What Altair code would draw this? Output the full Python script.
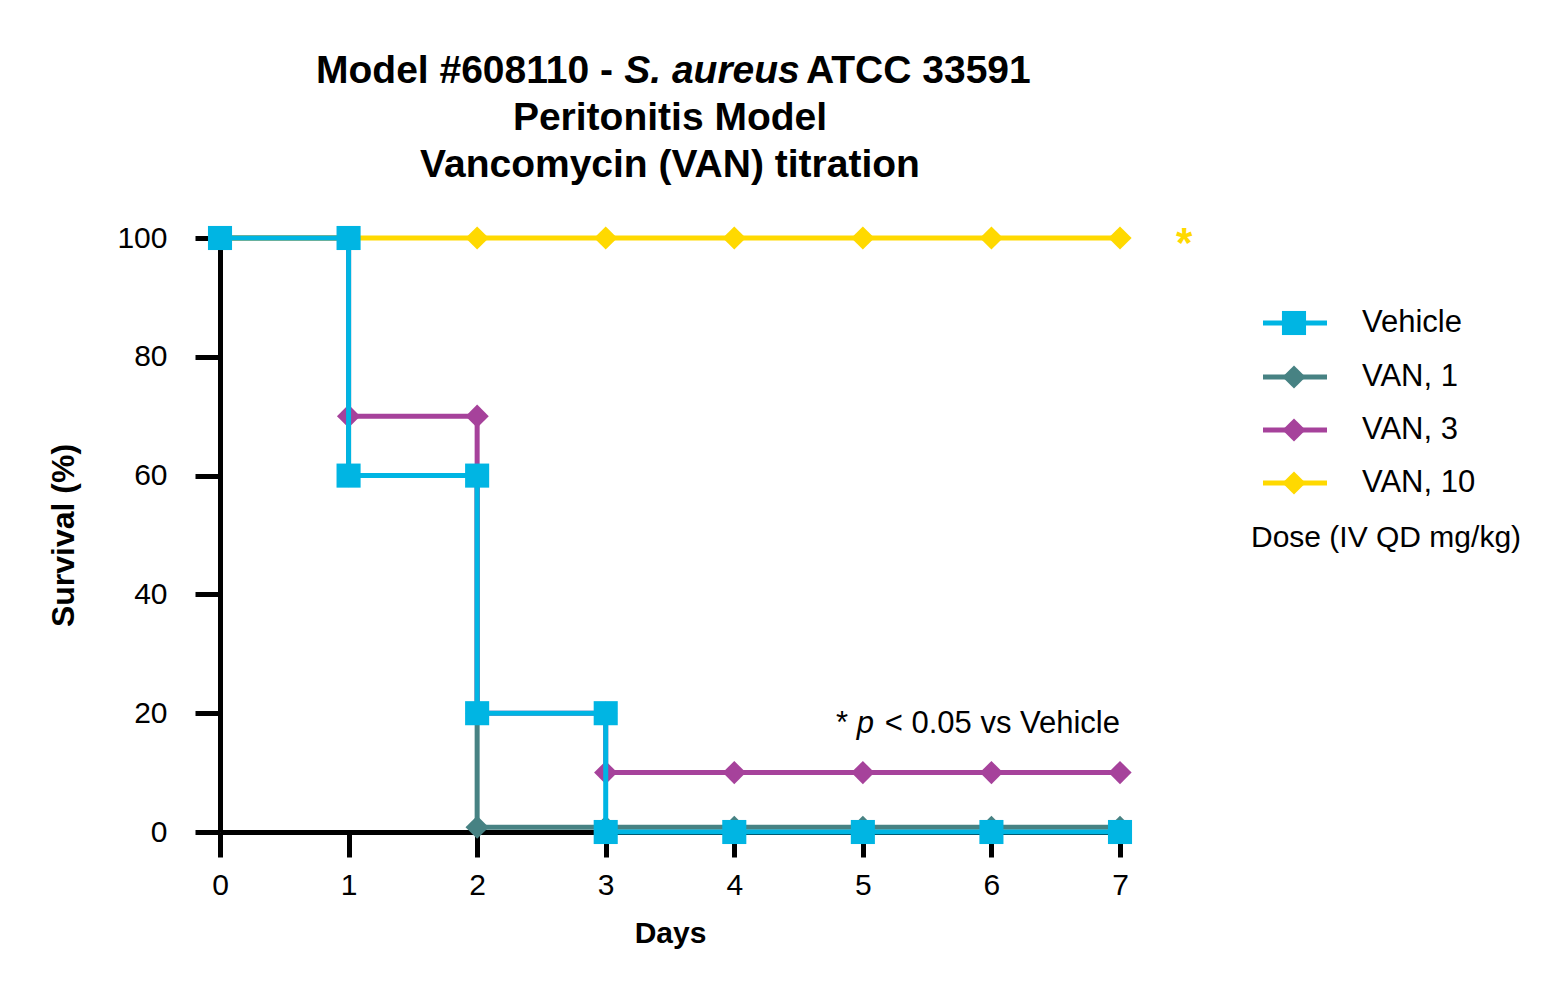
import altair as alt
import pandas as pd

# ---------------- data ----------------
days = [0, 1, 2, 3, 4, 5, 6, 7]
series_names = ["Vehicle", "VAN, 1", "VAN, 3", "VAN, 10"]
vehicle = [100, 60, 20, 0, 0, 0, 0, 0]
van1 = [100, 60, 0.8, 0.8, 0.8, 0.8, 0.8, 0.8]
van3 = [100, 70, 20, 10, 10, 10, 10, 10]
van10 = [100, 100, 100, 100, 100, 100, 100, 100]
series_values = [vehicle, van1, van3, van10]
colors = ["#00B5E3", "#478283", "#A6429B", "#FFD900"]
shapes = ["square", "diamond", "diamond", "diamond"]
draw_order = ["VAN, 1", "VAN, 3", "VAN, 10", "Vehicle"]

x_ticks = [0, 1, 2, 3, 4, 5, 6, 7]
y_ticks = [0, 20, 40, 60, 80, 100]

title_1a = "Model #608110 -"
title_1b = "S. aureus"
title_1c = "ATCC 33591"
title_2 = "Peritonitis Model"
title_3 = "Vancomycin (VAN) titration"
legend_title = "Dose (IV QD mg/kg)"
note_a = "*"
note_b = "p"
note_c = "< 0.05 vs Vehicle"
sig_mark = "*"
sig_day = [7.5]
sig_value = [100]

FONT = "Liberation Sans, Arial, Helvetica, sans-serif"
W, H = 900, 594


def step_path(vals):
    pts = [(days[0], vals[0])]
    for i in range(1, len(days)):
        if vals[i] != vals[i - 1]:
            pts.append((days[i], vals[i - 1]))
        pts.append((days[i], vals[i]))
    return pts


rows = []
for name, vals in zip(series_names, series_values):
    for k, (d, v) in enumerate(step_path(vals)):
        rows.append({"series": name, "day": d, "value": v, "k": k})
df = pd.DataFrame(rows)

xscale = alt.Scale(domain=[0, 7], nice=False, zero=False)
yscale = alt.Scale(domain=[0, 100], nice=False)
cscale = alt.Scale(domain=series_names, range=colors)

xaxis = alt.Axis(values=x_ticks, title="Days", titleFont=FONT, titleFontSize=30,
                 titleFontWeight="bold", titleColor="black", labelFont=FONT,
                 labelFontSize=30, labelColor="black", labelPadding=13,
                 tickSize=25, tickWidth=5, tickColor="black", domainWidth=5,
                 domainColor="black", grid=False, titleX=W / 2, titleY=101,
                 titleBaseline="middle", labelFlush=False)
yaxis = alt.Axis(values=y_ticks, title="Survival (%)", titleFont=FONT, titleFontSize=32,
                 titleFontWeight="bold", titleColor="black", labelFont=FONT,
                 labelFontSize=30, labelColor="black", labelPadding=28,
                 tickSize=25, tickWidth=5, tickColor="black", domainWidth=5,
                 domainColor="black", grid=False, titleX=-157, titleY=H / 2,
                 titleBaseline="middle", titleAngle=270, labelFlush=False)

layers = []
for name in draw_order:
    i = series_names.index(name)
    sub = df[df.series == name]
    base = alt.Chart(sub).encode(
        x=alt.X("day:Q", scale=xscale, axis=xaxis),
        y=alt.Y("value:Q", scale=yscale, axis=yaxis),
        color=alt.Color("series:N", scale=cscale, legend=None),
        order=alt.Order("k:Q"),
    )
    layers.append(base.mark_line(strokeWidth=5, strokeCap="butt", strokeJoin="miter"))
    sz = 580 if shapes[i] == "square" else 540
    layers.append(base.mark_point(shape=shapes[i], filled=True, size=sz, opacity=1))

one = pd.DataFrame({"a": [0]})


def txt(text, x, y, size, weight="normal", style="normal", align="center", color="black"):
    return alt.Chart(one).mark_text(
        text=text, font=FONT, fontSize=size, fontWeight=weight, fontStyle=style,
        align=align, baseline="middle", color=color
    ).encode(x=alt.value(x), y=alt.value(y))


# title (line 1 has an italic species name)
TS = 39
layers.append(txt(title_1a, 393, -167, TS, "bold", align="right"))
layers.append(txt(title_1b, 492, -167, TS, "bold", "italic", align="center"))
layers.append(txt(title_1c, 586, -167, TS, "bold", align="left"))
layers.append(txt(title_2, W / 2, -120, TS, "bold"))
layers.append(txt(title_3, W / 2, -73, TS, "bold"))

# p-value note
layers.append(txt(note_c, W, 486, 31, align="right"))
layers.append(txt(note_b, 654, 486, 31, style="italic", align="right"))
layers.append(txt(note_a, 628, 486, 31, align="right"))

# significance asterisk next to VAN, 10
sig = pd.DataFrame({"day": sig_day, "value": sig_value})
layers.append(alt.Chart(sig).mark_text(
    text=sig_mark, font=FONT, fontSize=42, fontWeight="bold", color=colors[3],
    align="center", baseline="middle", dy=6
).encode(x=alt.X("day:Q", scale=xscale, axis=xaxis),
         y=alt.Y("value:Q", scale=yscale, axis=yaxis)))

# manual legend
leg_rows = [85, 139, 192, 245]
for i, name in enumerate(series_names):
    yy = leg_rows[i]
    layers.append(alt.Chart(one).mark_rule(color=colors[i], strokeWidth=5).encode(
        x=alt.value(1043), x2=alt.value(1107), y=alt.value(yy)))
    sz = 580 if shapes[i] == "square" else 540
    layers.append(alt.Chart(one).mark_point(shape=shapes[i], filled=True, size=sz,
                                            opacity=1, color=colors[i]).encode(
        x=alt.value(1074), y=alt.value(yy)))
    layers.append(txt(name, 1142, yy, 31, align="left"))
layers.append(txt(legend_title, 1031, 300, 30, align="left"))

chart = alt.layer(*layers).properties(
    width=W, height=H,
    background="white",
    autosize=alt.AutoSizeParams(type="none"),
    padding={"left": 212, "top": 230, "right": 420, "bottom": 140},
).configure_view(stroke=None)

chart.save("out.html", embed_options={"renderer": "svg", "actions": False})
